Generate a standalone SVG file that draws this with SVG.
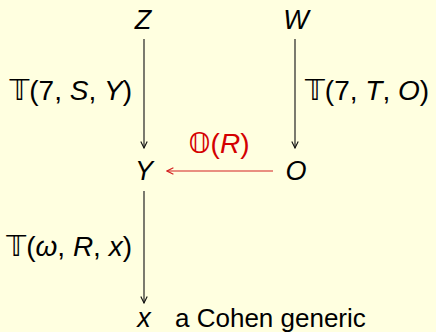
<svg xmlns="http://www.w3.org/2000/svg" width="436" height="332" viewBox="0 0 436 332">
<defs>
<style>
text{font-family:"Liberation Sans","DejaVu Sans",sans-serif;font-size:27px;fill:#000}
.lab{font-size:28px}
.i{font-style:italic}
.red{fill:#d40000}
.bb{font-family:"DejaVu Sans","Noto Sans",serif}
.edge{stroke:#222;stroke-width:1.2;fill:none}
.edge.r{stroke:#d42020}
</style>
<marker id="ah" viewBox="0 0 10 10" refX="9" refY="5" markerWidth="8" markerHeight="8" markerUnits="userSpaceOnUse" orient="auto">
<path d="M1,1 L9,5 L1,9" fill="none" stroke="#111" stroke-width="1.4"/>
</marker>
<marker id="ahr" viewBox="0 0 10 10" refX="9" refY="5" markerWidth="8" markerHeight="8" markerUnits="userSpaceOnUse" orient="auto">
<path d="M1,1 L9,5 L1,9" fill="none" stroke="#d42020" stroke-width="1.4"/>
</marker>
</defs>
<rect width="436" height="332" fill="#ffffe0"/>
<g id="connectors">
<line class="edge" x1="144" y1="39" x2="144" y2="148" marker-end="url(#ah)"/>
<line class="edge" x1="295" y1="39" x2="295" y2="148" marker-end="url(#ah)"/>
<line class="edge r" x1="273" y1="171" x2="167" y2="171" marker-end="url(#ahr)"/>
<line class="edge" x1="144" y1="191" x2="144" y2="303" marker-end="url(#ah)"/>
</g>
<g id="label-zy"><text class="lab" x="132" y="100" text-anchor="end"><tspan class="bb">𝕋</tspan>(7, <tspan class="i">S</tspan>, <tspan class="i">Y</tspan>)</text></g>
<g id="label-wo"><text class="lab" x="305" y="100"><tspan class="bb">𝕋</tspan>(7, <tspan class="i">T</tspan>, <tspan class="i">O</tspan>)</text></g>
<g id="label-oy"><text x="219" y="153" text-anchor="middle" class="lab red"><tspan class="bb">𝕆</tspan>(<tspan class="i">R</tspan>)</text></g>
<g id="label-yx"><text class="lab" x="132" y="256" text-anchor="end"><tspan class="bb">𝕋</tspan>(<tspan class="i">ω</tspan>, <tspan class="i">R</tspan>, <tspan class="i">x</tspan>)</text></g>
<g id="node-Z"><text x="143" y="29" text-anchor="middle" class="i">Z</text></g>
<g id="node-W"><text x="296" y="29" text-anchor="middle" class="i">W</text></g>
<g id="node-Y"><text x="144" y="180" text-anchor="middle" class="i">Y</text></g>
<g id="node-O"><text x="296" y="180" text-anchor="middle" class="i">O</text></g>
<g id="node-x"><text x="144" y="327" text-anchor="middle" class="i">x</text></g>
<g id="label-cohen"><text x="175" y="327" style="font-size:26px">a Cohen generic</text></g>
</svg>
